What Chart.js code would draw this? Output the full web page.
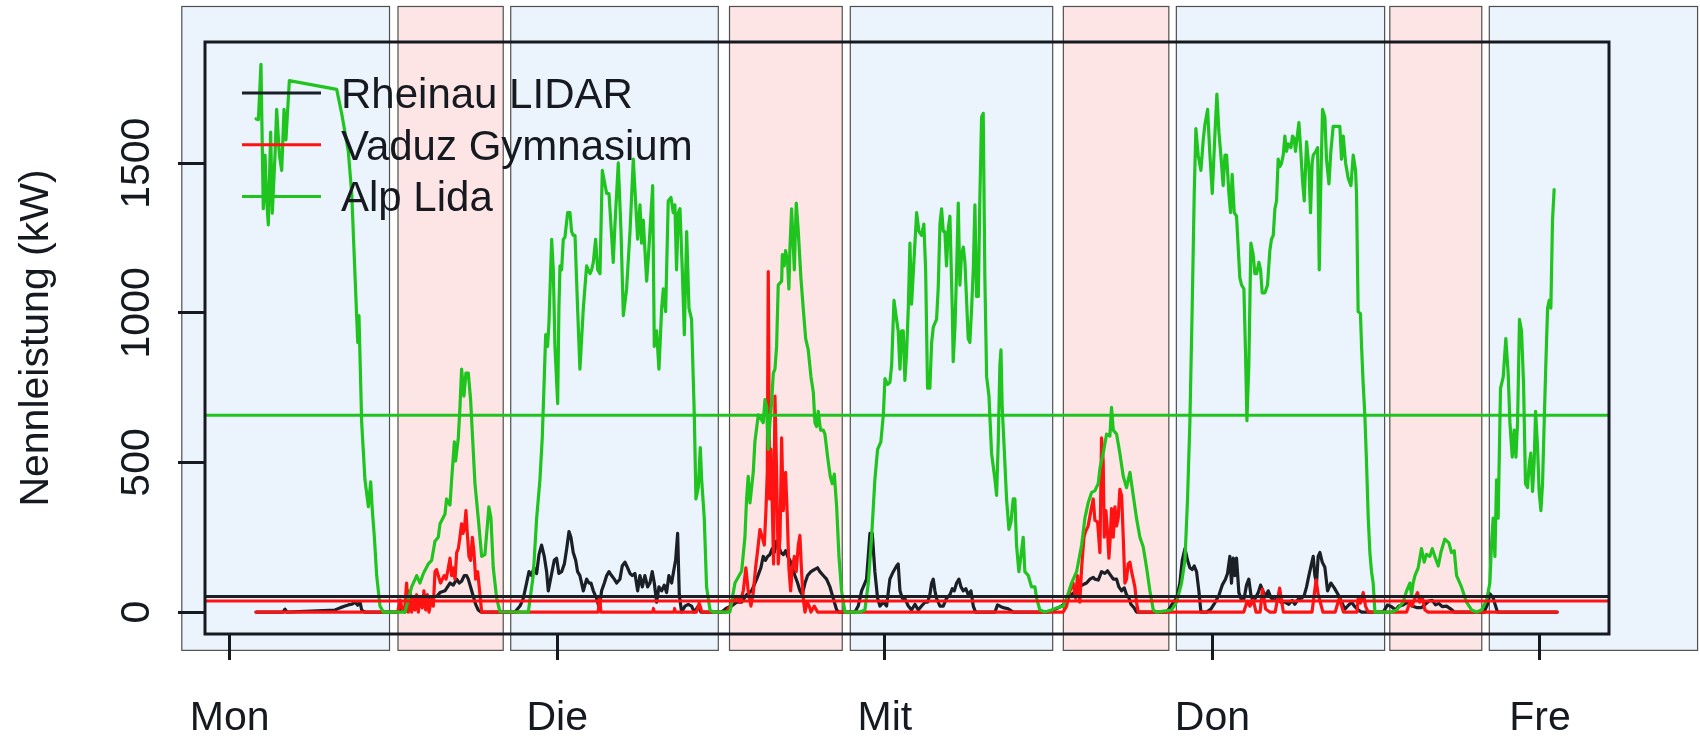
<!DOCTYPE html>
<html>
<head>
<meta charset="utf-8">
<title>Nennleistung</title>
<script src="https://cdn.jsdelivr.net/npm/chart.js@4.4.1/dist/chart.umd.min.js"></script>
<style>
  html, body { margin: 0; padding: 0; background: #fff; }
  canvas { display: block; }
</style>
</head>
<body>
<canvas id="powerChart" width="1700" height="737"></canvas>
<script>
// x values are hours since Monday 00:00, y values are kW
const dayTicks = [0, 24, 48, 72, 96];
const dayLabels = ['Mon', 'Die', 'Mit', 'Don', 'Fre'];
const powerTicks = [0, 500, 1000, 1500];

const seriesNames = ['Rheinau LIDAR', 'Vaduz Gymnasium', 'Alp Lida'];
const seriesColors = ['#1b1f26', '#ff1212', '#1fc41f'];
const meanKw = [52, 37, 658];

// shaded periods (day = blue, night = pink)
const bandStart = [-3.51, 12.33, 20.59, 36.62, 45.47, 61.08, 69.36, 85.00, 92.29];
const bandEnd   = [11.71, 20.04, 35.80, 44.88, 60.30, 68.81, 84.62, 91.74, 107.55];
const bandNight = [false, true, false, true, false, true, false, true, false];

const rheinau = [
  [1.93,0],[3.9,0],[4.05,10],[4.2,0],[7.71,7],[8.08,14],[8.45,20],[8.69,24],[8.94,26],[9.18,33],[9.38,23],[9.55,33],[9.67,7],[9.91,0],
  [12.3,0],[12.6,15],[12.84,0],[13.33,33],[13.82,46],[14.31,33],[14.67,52],[15.16,52],[15.41,65],[15.77,71],[16.14,97],[16.38,90],[16.63,110],[16.82,97],[16.99,103],[17.19,122],[17.36,122],[17.48,110],[17.65,84],[17.85,52],[18.02,26],[18.21,7],[18.41,0],
  [20.90,0],[21.27,20],[21.51,46],[21.75,97],[21.93,135],[22.12,122],[22.29,148],[22.49,129],[22.66,192],[22.85,224],[23.05,186],[23.22,135],[23.34,71],[23.59,129],[23.78,173],[23.95,180],[24.12,129],[24.32,135],[24.52,161],[24.69,212],[24.86,269],[25.00,250],[25.17,199],[25.35,173],[25.49,135],[25.66,122],[25.91,71],[26.15,110],[26.32,97],[26.47,97],[26.64,71],[26.88,46],[27.08,13],[27.25,71],[27.45,97],[27.62,122],[27.79,135],[27.98,122],[28.18,110],[28.35,97],[28.59,110],[28.76,154],[28.96,167],[29.15,148],[29.33,129],[29.50,122],[29.69,129],[29.89,71],[30.06,122],[30.23,84],[30.42,122],[30.62,84],[30.79,97],[30.96,135],[31.11,97],[31.28,33],[31.45,84],[31.65,71],[31.84,90],[32.01,65],[32.18,122],[32.38,97],[32.57,148],[32.67,173],[32.82,263],[32.94,58],[33.11,0],[33.36,20],[33.60,26],[33.84,20],[34.04,0],[34.33,20],[34.53,0],
  [36.04,0],[36.41,14],[36.77,20],[37.14,33],[37.51,33],[37.87,58],[38.24,71],[38.61,110],[38.92,148],[39.09,186],[39.26,173],[39.41,186],[39.58,192],[39.75,212],[39.90,199],[40.07,237],[40.19,224],[40.39,199],[40.56,192],[40.73,205],[40.88,186],[41.05,173],[41.22,148],[41.41,122],[41.61,97],[41.78,71],[41.95,58],[42.15,97],[42.34,122],[42.59,135],[42.83,142],[43.07,148],[43.24,135],[43.49,122],[43.73,110],[43.98,84],[44.22,46],[44.47,7],[44.64,0],
  [45.81,0],[46.05,20],[46.30,71],[46.54,97],[46.66,110],[46.91,263],[47.08,263],[47.27,135],[47.47,46],[47.64,20],[47.89,33],[48.13,20],[48.37,110],[48.62,135],[48.86,154],[48.98,161],[49.11,71],[49.28,46],[49.47,46],[49.72,20],[49.96,7],[50.21,26],[50.45,7],[50.69,20],[50.94,33],[51.13,33],[51.30,58],[51.43,97],[51.55,110],[51.67,71],[51.79,46],[52.04,20],[52.28,20],[52.52,46],[52.77,58],[52.94,78],[53.09,71],[53.26,97],[53.43,110],[53.58,84],[53.75,71],[53.94,78],[54.11,58],[54.31,71],[54.48,20],[54.65,0],[56.07,0],[56.26,24],[56.51,18],[56.75,14],[57.04,11],[57.41,0],
  [59.97,0],[60.34,7],[60.71,14],[61.07,24],[61.32,37],[61.56,54],[61.80,63],[62.05,70],[62.29,86],[62.54,92],[62.78,97],[63.03,110],[63.27,116],[63.39,110],[63.64,107],[63.88,135],[64.12,129],[64.32,138],[64.56,122],[64.74,110],[64.98,110],[65.15,84],[65.35,71],[65.54,81],[65.71,58],[65.88,48],[66.03,26],[66.27,14],[66.44,0],
  [68.64,0],[68.89,14],[69.13,33],[69.38,46],[69.62,97],[69.79,173],[69.99,212],[70.18,173],[70.35,148],[70.52,142],[70.67,154],[70.84,135],[71.01,71],[71.16,0],[71.57,0],[71.89,10],[72.18,31],[72.48,56],[72.72,90],[72.96,110],[73.11,129],[73.28,186],[73.40,97],[73.53,180],[73.65,122],[73.77,180],[73.94,65],[74.14,39],[74.33,46],[74.50,90],[74.67,110],[74.82,58],[74.99,33],[75.16,48],[75.36,65],[75.53,90],[75.70,71],[75.90,52],[76.09,71],[76.29,48],[76.53,39],[76.77,46],[77.02,33],[77.31,33],[77.60,26],[77.85,39],[78.04,26],[78.29,43],[78.53,46],[78.73,56],[78.90,84],[79.07,122],[79.27,163],[79.39,186],[79.51,122],[79.63,97],[79.75,186],[79.88,199],[80.05,167],[80.24,150],[80.44,71],[80.68,97],[80.93,81],[81.22,58],[81.46,35],[81.71,10],[81.95,22],[82.20,33],[82.44,18],[82.68,7],[82.93,0],
  [84.52,0],[84.83,24],[85.13,18],[85.42,7],[85.66,20],[85.98,24],[86.35,33],[86.64,20],[86.96,15],[87.32,15],[87.62,27],[87.86,37],[88.11,39],[88.35,24],[88.59,29],[88.84,18],[89.16,20],[89.47,10],[89.72,0],[91.91,0],[92.16,26],[92.33,61],[92.57,48],[92.75,20],[92.89,0],[97.26,0]
];

const vaduz = [
  [1.93,0],[12.3,0],[12.5,40],[12.65,5],[12.84,20],[12.96,97],[13.09,0],[13.21,71],[13.33,0],[13.45,46],[13.57,7],[13.70,58],[13.82,0],[13.94,46],[14.11,14],[14.23,71],[14.36,7],[14.48,58],[14.60,0],[14.80,46],[14.92,20],[15.04,135],[15.16,142],[15.28,122],[15.45,97],[15.58,110],[15.72,122],[15.85,110],[15.97,135],[16.14,180],[16.26,122],[16.38,148],[16.51,110],[16.63,199],[16.75,212],[16.87,250],[16.99,295],[17.09,263],[17.19,276],[17.31,339],[17.41,263],[17.53,186],[17.65,173],[17.78,250],[17.90,199],[18.02,110],[18.17,135],[18.31,71],[18.46,0],
  [27.0,0],[27.1,52],[27.2,0],[31.0,0],[31.05,12],[31.1,0],[32.55,0],[32.6,12],[32.65,0],[34.2,0],[34.4,30],[34.6,0],
  [36.4,0],[36.65,20],[36.90,39],[37.14,52],[37.39,33],[37.63,71],[37.82,148],[37.99,71],[38.19,20],[38.36,65],[38.53,148],[38.68,205],[38.85,276],[39.02,250],[39.17,224],[39.29,339],[39.39,467],[39.46,1138],[39.56,378],[39.66,544],[39.75,365],[39.85,161],[39.95,722],[40.07,467],[40.19,161],[40.32,250],[40.44,582],[40.56,339],[40.73,467],[40.85,327],[40.97,148],[41.10,71],[41.22,148],[41.37,186],[41.51,135],[41.66,224],[41.78,256],[41.90,135],[42.02,46],[42.15,0],[42.32,33],[42.46,20],[42.59,0],[42.83,20],[43.07,0],
  [61.07,0],[61.32,20],[61.56,71],[61.80,97],[61.98,46],[62.12,122],[62.29,33],[62.42,148],[62.59,250],[62.71,269],[62.90,288],[63.10,339],[63.27,378],[63.39,307],[63.59,301],[63.76,199],[63.88,582],[64.00,505],[64.08,250],[64.20,339],[64.32,263],[64.42,180],[64.52,250],[64.61,346],[64.74,250],[64.86,352],[64.98,288],[65.10,314],[65.22,410],[65.35,390],[65.47,250],[65.59,97],[65.71,110],[65.83,161],[65.96,167],[66.08,135],[66.20,110],[66.32,84],[66.44,33],[66.57,0],
  [74.3,0],[74.55,36],[74.75,20],[75.0,40],[75.2,0],[75.5,0],[75.67,77],[75.9,10],[76.2,0],[76.6,0],[76.93,80],[77.2,0],[79.3,0],[79.6,108],[79.75,60],[80.1,0],[81.0,0],[81.3,47],[81.6,0],[82.6,0],[82.68,46],[82.85,30],[83.05,65],[83.22,20],[83.42,0],
  [86.23,0],[86.47,33],[86.64,20],[86.84,46],[87.03,65],[87.20,33],[87.37,52],[87.57,7],[87.81,0],[97.26,0]
];

const alpLida = [
  [1.93,1648],[2.10,1646],[2.29,1831],[2.46,1348],[2.59,1527],[2.71,1374],[2.83,1294],[3.00,1604],[3.12,1333],[3.32,1527],[3.44,1680],[3.64,1527],[3.81,1476],[3.98,1680],[4.12,1578],[4.37,1776],
  [7.84,1747],[8.20,1667],[8.69,1540],[8.94,1399],[9.30,991],[9.38,901],[9.47,991],[9.67,633],[9.91,442],[10.16,352],[10.33,435],[10.45,339],[10.60,250],[10.77,122],[11.01,20],[11.26,0],
  [12.84,0],[12.96,20],[13.33,84],[13.70,122],[13.94,97],[14.19,129],[14.55,161],[14.80,173],[15.04,237],[15.28,250],[15.41,295],[15.77,327],[15.89,378],[16.14,358],[16.26,442],[16.46,569],[16.55,505],[16.75,582],[16.87,684],[16.99,812],[17.16,722],[17.31,799],[17.48,799],[17.65,710],[17.97,429],[18.21,314],[18.46,186],[18.70,192],[18.99,352],[19.14,314],[19.31,148],[19.56,46],[19.80,1],
  [21.88,0],[22.24,122],[22.49,314],[22.73,442],[22.90,582],[23.05,786],[23.15,927],[23.29,888],[23.39,965],[23.59,1246],[23.71,1144],[23.83,888],[24.03,697],[24.12,1016],[24.20,1157],[24.32,1144],[24.44,1246],[24.56,1252],[24.76,1335],[24.93,1335],[25.05,1272],[25.17,1259],[25.30,1259],[25.49,1016],[25.66,812],[25.91,1016],[26.15,1157],[26.40,1131],[26.52,1144],[26.64,1169],[26.81,1246],[26.96,1144],[27.13,1131],[27.30,1476],[27.62,1399],[27.79,1399],[27.93,1297],[28.10,1169],[28.23,1297],[28.47,1501],[28.67,1272],[28.84,991],[29.08,1080],[29.33,1272],[29.57,1514],
  [29.89,1246],[30.06,1361],[30.18,1233],[30.30,1310],[30.55,1106],[30.72,1220],[30.99,1425],[31.11,888],[31.28,940],[31.45,812],[31.65,1016],[31.77,1080],[31.94,1004],[32.13,1374],[32.33,1386],[32.50,1335],[32.62,1361],[32.74,1144],[32.87,1335],[32.99,1348],[33.16,1144],[33.31,927],[33.48,1272],[33.65,1016],[33.84,978],[34.04,659],[34.16,378],[34.33,416],[34.48,550],[34.58,442],[34.77,314],[34.94,84],[35.19,7],[35.43,0],
  [36.65,0],[37.02,97],[37.51,137],[37.75,250],[37.87,378],[37.99,454],[38.12,365],[38.36,467],[38.48,569],[38.73,659],[38.85,652],[39.09,633],[39.22,710],[39.34,684],[39.46,544],[39.58,633],[39.70,697],[39.83,799],[39.95,812],[40.07,888],[40.19,1093],[40.44,1106],[40.49,1195],[40.63,1157],[40.73,1208],[40.88,1169],[40.97,1080],[41.05,1220],[41.17,1348],[41.37,1144],[41.51,1367],[41.66,1272],[41.85,1118],[42.02,1016],[42.20,914],[42.39,876],[42.59,786],[42.76,735],[42.88,633],[43.00,620],[43.12,671],[43.29,608],[43.49,608],[43.61,595],[43.81,518],[44.00,454],[44.15,429],[44.30,461],[44.47,352],[44.64,186],[44.83,71],[45.08,0],
  [46.18,0],[46.54,7],[46.79,97],[47.03,250],[47.27,442],[47.47,544],[47.71,569],[47.89,659],[48.01,780],[48.20,761],[48.37,767],[48.50,825],[48.67,1042],[48.86,978],[48.98,940],[49.11,812],[49.23,940],[49.35,940],[49.47,774],[49.59,863],[49.72,1016],[49.84,1233],[49.96,1029],[50.16,1195],[50.33,1335],[50.50,1272],[50.69,1259],[50.86,1297],[50.99,1144],[51.13,748],[51.30,748],[51.43,901],[51.55,952],[51.79,978],[51.91,1080],[52.04,1297],[52.16,1348],[52.28,1272],[52.40,1272],[52.52,1157],[52.65,1284],[52.77,1323],[52.94,1016],[53.01,837],[53.14,952],[53.26,1144],[53.38,1367],[53.50,1093],[53.62,1195],[53.75,1220],[53.87,1169],[54.11,914],[54.23,901],[54.36,1016],[54.48,1144],[54.60,1361],[54.72,1055],[54.85,1055],[54.97,1399],[55.09,1655],[55.21,1667],[55.33,1118],[55.46,786],[55.63,722],[55.82,531],[56.07,442],[56.19,390],[56.31,569],[56.43,825],[56.51,876],[56.60,684],[56.75,544],[56.92,378],[57.09,276],[57.24,301],[57.41,378],[57.53,378],[57.65,224],[57.82,135],[57.97,186],[58.14,250],[58.26,135],[58.51,122],[58.75,84],[59.00,84],[59.12,46],[59.36,7],[59.73,0],
  [60.22,7],[60.58,14],[61.07,20],[61.32,46],[61.68,97],[62.05,135],[62.42,224],[62.66,314],[62.90,365],[63.15,400],[63.39,405],[63.64,430],[63.76,480],[64.00,531],[64.25,595],[64.49,588],[64.61,684],[64.74,608],[64.98,595],[65.22,531],[65.47,454],[65.71,416],[65.96,467],[66.20,390],[66.44,314],[66.69,250],[66.93,218],[67.18,148],[67.42,71],[67.67,7],[67.91,0],
  [69.01,7],[69.38,33],[69.74,97],[69.99,173],[70.18,378],[70.35,633],[70.52,1016],[70.67,1399],[70.79,1616],[70.96,1527],[71.16,1476],[71.33,1578],[71.45,1629],[71.65,1680],[71.82,1527],[71.99,1399],[72.18,1591],[72.33,1731],[72.48,1604],[72.62,1527],[72.79,1425],[72.92,1527],[73.04,1527],[73.21,1399],[73.33,1335],[73.45,1463],[73.60,1335],[73.77,1323],[73.89,1220],[74.01,1118],[74.14,1093],[74.31,1080],[74.43,863],[74.53,640],[74.67,825],[74.82,1233],[74.99,1195],[75.11,1131],[75.24,1131],[75.41,1169],[75.53,1144],[75.65,1067],[75.85,1067],[76.04,1093],[76.21,1208],[76.33,1246],[76.46,1259],[76.58,1348],[76.70,1374],[76.82,1514],[76.95,1489],[77.07,1501],[77.19,1527],[77.31,1591],[77.43,1540],[77.56,1565],[77.75,1552],[77.87,1591],[77.99,1584],[78.09,1540],[78.22,1591],[78.34,1636],[78.46,1552],[78.61,1438],[78.73,1374],[78.83,1489],[78.90,1572],[79.07,1489],[79.19,1335],[79.31,1501],[79.39,1527],[79.58,1540],[79.71,1552],[79.83,1144],[79.93,1399],[80.07,1680],[80.24,1655],
  [80.36,1514],[80.54,1431],[80.68,1540],[80.85,1623],[81.34,1623],[81.46,1514],[81.59,1591],[81.76,1501],[81.95,1450],[82.15,1425],[82.32,1527],[82.49,1476],[82.56,1399],[82.68,1004],[82.85,997],[82.93,888],[83.05,761],[83.17,659],[83.29,505],[83.42,314],[83.54,199],[83.66,135],[83.78,97],[83.91,0],
  [85.13,0],[85.49,7],[85.98,33],[86.23,71],[86.47,97],[86.59,58],[86.71,97],[86.84,122],[87.08,148],[87.32,212],[87.52,167],[87.69,193],[87.93,186],[88.11,212],[88.30,186],[88.55,154],[88.74,199],[89.03,244],[89.33,231],[89.52,199],[89.72,205],[89.89,122],[90.25,84],[90.62,33],[90.99,7],[91.35,0],
  [91.72,7],[92.09,39],[92.33,97],[92.45,224],[92.57,314],[92.70,186],[92.82,442],[92.94,314],[93.11,748],[93.31,786],[93.50,914],[93.67,799],[93.80,633],[93.97,518],[94.11,608],[94.24,518],[94.36,633],[94.50,978],[94.65,940],[94.80,761],[94.94,429],[95.09,416],[95.21,493],[95.33,531],[95.46,403],[95.58,505],[95.68,671],[95.82,556],[95.94,403],[96.07,339],[96.19,429],[96.31,633],[96.43,825],[96.56,1016],[96.68,1042],[96.80,1016],[96.92,1310],[97.04,1412]
];

const xMin = -1.81, xMax = 101.06;
const yMin = -73.3, yMax = 1905.3;
const bandTopKw = 2024, bandBottomKw = -128;
const fontFamily = '"Liberation Sans", Arial, Helvetica, sans-serif';
const inkColor = '#161a20';

function toPoints(rows) {
    return rows.map(r => ({ x: r[0], y: r[1] }));
}

var datasets = [rheinau, vaduz, alpLida].map((rows, i) => ({
    label: seriesNames[i],
    data: toPoints(rows),
    borderColor: seriesColors[i],
    order: 6 - i
}));

// mean levels, drawn across the whole plot region
meanKw.forEach((kw, i) => {
    datasets.push({
        label: seriesNames[i] + ' Mittel',
        data: [{ x: xMin, y: kw }, { x: xMax, y: kw }],
        borderColor: seriesColors[i],
        borderWidth: 3,
        order: 3 - i
    });
});

const bandsPlugin = {
    id: 'bands',
    beforeDraw(chart) {
        const ctx = chart.ctx, x = chart.scales.x, y = chart.scales.y;
        const top = y.getPixelForValue(bandTopKw);
        const bottom = y.getPixelForValue(bandBottomKw);
        ctx.save();
        bandStart.forEach((start, i) => {
            const left = x.getPixelForValue(start);
            const right = x.getPixelForValue(bandEnd[i]);
            ctx.fillStyle = bandNight[i] ? '#fde5e5' : '#ebf4fd';
            ctx.fillRect(left, top, right - left, bottom - top);
            ctx.strokeStyle = '#505050';
            ctx.lineWidth = 1.2;
            ctx.strokeRect(left, top, right - left, bottom - top);
        });
        ctx.restore();
    }
};

const framePlugin = {
    id: 'frame',
    afterDatasetsDraw(chart) {
        const ctx = chart.ctx, a = chart.chartArea;
        ctx.save();
        ctx.strokeStyle = inkColor;
        ctx.lineWidth = 3;
        ctx.strokeRect(a.left, a.top, a.right - a.left, a.bottom - a.top);
        ctx.restore();
    }
};

const textPlugin = {
    id: 'labels',
    afterDraw(chart) {
        const ctx = chart.ctx, x = chart.scales.x, y = chart.scales.y, a = chart.chartArea;
        ctx.save();
        ctx.fillStyle = inkColor;
        ctx.font = '41px ' + fontFamily;
        ctx.textAlign = 'center';
        ctx.textBaseline = 'alphabetic';

        dayTicks.forEach((d, i) => {
            ctx.fillText(dayLabels[i], x.getPixelForValue(d), a.bottom + 96);
        });

        // y tick labels run parallel to the axis
        powerTicks.forEach(v => {
            ctx.save();
            ctx.translate(a.left - 56, y.getPixelForValue(v));
            ctx.rotate(-Math.PI / 2);
            ctx.fillText(String(v), 0, 0);
            ctx.restore();
        });

        ctx.save();
        ctx.translate(48, (a.top + a.bottom) / 2);
        ctx.rotate(-Math.PI / 2);
        ctx.fillText('Nennleistung (kW)', 0, 0);
        ctx.restore();

        // legend in the upper left corner of the plot
        ctx.font = '42px ' + fontFamily;
        ctx.textAlign = 'left';
        seriesNames.forEach((name, i) => {
            const rowY = a.top + 51 + i * 51.7;
            ctx.strokeStyle = seriesColors[i];
            ctx.lineWidth = 3;
            ctx.beginPath();
            ctx.moveTo(a.left + 37, rowY);
            ctx.lineTo(a.left + 116, rowY);
            ctx.stroke();
            ctx.fillStyle = inkColor;
            ctx.fillText(name, a.left + 136, rowY + 15);
        });
        ctx.restore();
    }
};

const tickGrid = (len) => ({
    drawOnChartArea: false,
    drawTicks: true,
    tickLength: len,
    lineWidth: 3,
    color: inkColor
});

new Chart(document.getElementById('powerChart'), {
    type: 'line',
    data: { datasets: datasets },
    options: {
        responsive: false,
        animation: false,
        devicePixelRatio: 1,
        layout: { padding: { top: 42, right: 91, bottom: 0, left: 0 } },
        plugins: {
            legend: { display: false },
            tooltip: { enabled: false }
        },
        elements: {
            point: { radius: 0 },
            line: { tension: 0, borderWidth: 3.2, borderJoinStyle: 'round', borderCapStyle: 'round' }
        },
        scales: {
            x: {
                type: 'linear',
                min: xMin,
                max: xMax,
                afterBuildTicks: s => { s.ticks = dayTicks.map(v => ({ value: v })); },
                afterFit: s => { s.height = 103; },
                ticks: { display: false },
                border: { display: false },
                grid: tickGrid(26)
            },
            y: {
                type: 'linear',
                min: yMin,
                max: yMax,
                afterBuildTicks: s => { s.ticks = powerTicks.map(v => ({ value: v })); },
                afterFit: s => { s.width = 205; },
                ticks: { display: false },
                border: { display: false },
                grid: tickGrid(27)
            }
        }
    },
    plugins: [bandsPlugin, framePlugin, textPlugin]
});
</script>
</body>
</html>
